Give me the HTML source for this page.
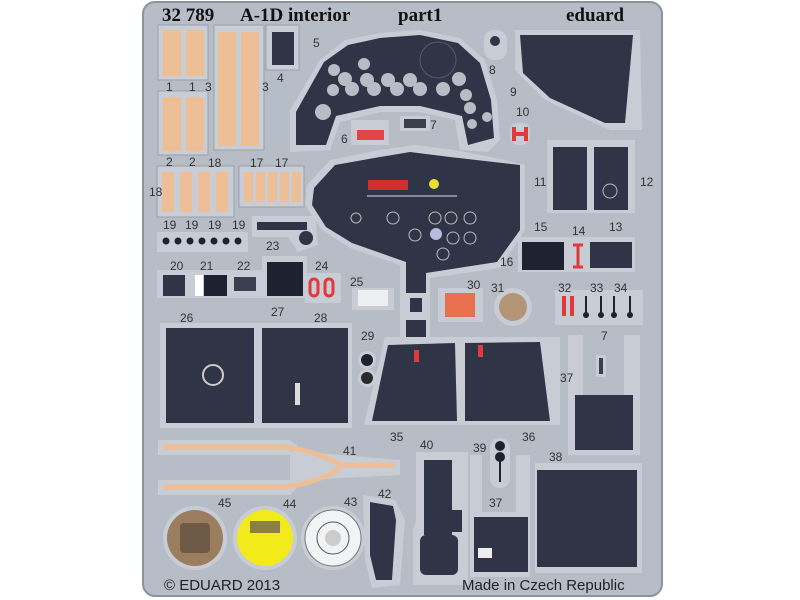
<!DOCTYPE html>
<html><head><meta charset="utf-8"><style>
html,body{margin:0;padding:0;background:#fff;}
svg{display:block}
text{font-family:"Liberation Sans",sans-serif;fill:#333;font-size:12px}
.t{font-family:"Liberation Serif",serif;font-weight:bold;font-size:19px;fill:#111}
</style></head><body>
<svg width="800" height="600" viewBox="0 0 800 600">
<rect x="143" y="2" width="519" height="594" rx="12" fill="#b7bdc7" stroke="#8d939d" stroke-width="2"/>
<text class="t" x="162" y="21">32 789</text>
<text class="t" x="240" y="21">A-1D interior</text>
<text class="t" x="398" y="21">part1</text>
<text class="t" x="566" y="21">eduard</text>
<g fill="#c9ced6" stroke="#9aa0aa">
<rect x="158" y="25" width="50" height="55"/><rect x="158" y="91" width="50" height="64"/>
<rect x="214" y="25" width="50" height="125"/><rect x="157" y="166" width="77" height="51"/><rect x="239" y="166" width="65" height="41"/>
<rect x="266" y="25" width="33" height="45"/>
</g>
<g fill="#eebf96">
<rect x="163" y="30" width="18" height="46"/><rect x="186" y="30" width="18" height="46"/>
<rect x="163" y="97" width="18" height="54"/><rect x="186" y="97" width="18" height="54"/>
<rect x="218" y="32" width="18" height="114"/><rect x="241" y="32" width="18" height="114"/>
<rect x="162" y="172" width="12" height="40"/><rect x="180" y="172" width="12" height="40"/><rect x="198" y="172" width="12" height="40"/><rect x="216" y="172" width="12" height="40"/>
<rect x="244" y="172" width="9" height="30"/><rect x="256" y="172" width="9" height="30"/><rect x="268" y="172" width="9" height="30"/><rect x="280" y="172" width="9" height="30"/><rect x="292" y="172" width="9" height="30"/>
</g>
<rect x="272" y="32" width="22" height="33" fill="#2f3446"/>
<path d="M290 110 L320 60 L345 40 L380 33 L420 30 L460 38 L485 60 L497 100 L500 140 L488 152 L460 150 L455 120 L420 112 L380 112 L340 122 L330 150 L290 152 Z" fill="#c8cdd5"/>
<path d="M296 112 L324 62 L348 45 L380 38 L420 35 L458 43 L480 63 L491 100 L494 138 L468 145 L462 116 L420 106 L380 106 L336 116 L326 145 L296 145 Z" fill="#2f3446"/>
<g fill="#b8bcc4">
<circle cx="334" cy="70" r="6"/><circle cx="364" cy="64" r="6"/><circle cx="345" cy="79" r="7"/><circle cx="367" cy="80" r="7"/><circle cx="388" cy="80" r="7"/><circle cx="410" cy="80" r="7"/><circle cx="459" cy="79" r="7"/>
<circle cx="333" cy="90" r="6"/><circle cx="352" cy="89" r="7"/><circle cx="374" cy="89" r="7"/><circle cx="397" cy="89" r="7"/><circle cx="420" cy="89" r="7"/><circle cx="443" cy="89" r="7"/><circle cx="466" cy="95" r="6"/>
<circle cx="323" cy="112" r="8"/><circle cx="470" cy="108" r="6"/><circle cx="487" cy="117" r="5"/><circle cx="472" cy="124" r="5"/>
</g>
<circle cx="438" cy="60" r="18" fill="none" stroke="#555a6a"/>
<rect x="351" y="120" width="38" height="25" fill="#c8cdd5"/><rect x="357" y="130" width="27" height="10" fill="#e24545"/>
<rect x="400" y="116" width="30" height="15" fill="#c8cdd5"/><rect x="404" y="119" width="22" height="9" fill="#3a3f4f"/>
<rect x="484" y="30" width="23" height="30" rx="10" fill="#c8cdd5"/><circle cx="495" cy="41" r="5" fill="#2f3446"/>
<path d="M515 30 L640 30 L642 130 L610 130 L545 100 L515 70 Z" fill="#c8cdd5"/>
<path d="M520 35 L633 35 L625 123 L605 123 L550 98 L523 73 Z" fill="#2f3446"/>
<rect x="510" y="123" width="20" height="22" rx="8" fill="#c8cdd5"/><path d="M514 127 v14 M526 127 v14 M514 134 h12" stroke="#e03a3a" stroke-width="4"/>
<rect x="547" y="140" width="88" height="73" fill="#c8cdd5"/>
<rect x="553" y="147" width="34" height="63" fill="#2f3446"/><rect x="594" y="147" width="34" height="63" fill="#2f3446"/>
<circle cx="610" cy="191" r="7" fill="none" stroke="#bbb"/>
<path d="M307 185 L330 160 L380 150 L415 145 L455 150 L505 160 L525 165 L525 230 L500 268 L430 278 L430 345 L400 345 L400 265 L350 248 L322 230 L305 205 Z" fill="#c8cdd5"/>
<path d="M314 188 L335 165 L380 157 L410 152 L450 157 L520 165 L520 230 L497 262 L426 273 L426 340 L406 340 L406 262 L352 243 L326 227 L312 205 Z" fill="#2f3446"/>
<rect x="368" y="180" width="40" height="10" fill="#d03030"/><circle cx="434" cy="184" r="5" fill="#e8e030"/>
<rect x="367" y="195" width="90" height="2" fill="#888"/>
<g fill="none" stroke="#bbb"><circle cx="435" cy="218" r="6"/><circle cx="451" cy="218" r="6"/><circle cx="470" cy="218" r="6"/><circle cx="453" cy="238" r="6"/><circle cx="470" cy="238" r="6"/><circle cx="415" cy="235" r="6"/><circle cx="443" cy="254" r="6"/><circle cx="393" cy="218" r="6"/><circle cx="356" cy="218" r="5"/></g>
<circle cx="436" cy="234" r="6" fill="#b8bce0"/>
<rect x="518" y="237" width="117" height="35" fill="#c8cdd5"/>
<rect x="522" y="242" width="42" height="28" fill="#1f2230"/><rect x="590" y="242" width="42" height="26" fill="#2f3446"/>
<path d="M573 245 h10 M578 245 v22 M573 267 h10" stroke="#e03a3a" stroke-width="3"/>
<rect x="157" y="232" width="91" height="20" fill="#c8cdd5"/>
<g fill="#1e2130"><circle cx="166" cy="241" r="3.5"/><circle cx="178" cy="241" r="3.5"/><circle cx="190" cy="241" r="3.5"/><circle cx="202" cy="241" r="3.5"/><circle cx="214" cy="241" r="3.5"/><circle cx="226" cy="241" r="3.5"/><circle cx="238" cy="241" r="3.5"/></g>
<path d="M252 216 L315 216 L318 245 L298 252 L288 237 L252 237 Z" fill="#c8cdd5"/><rect x="257" y="222" width="50" height="8" fill="#2f3446"/><circle cx="306" cy="238" r="7" fill="#2f3446"/>
<rect x="157" y="270" width="105" height="28" fill="#c8cdd5"/>
<rect x="163" y="275" width="22" height="21" fill="#2f3446"/><rect x="195" y="275" width="8" height="21" fill="#fff"/><rect x="204" y="275" width="23" height="21" fill="#1e2130"/><rect x="234" y="277" width="22" height="14" fill="#3a3f4f"/>
<rect x="262" y="256" width="45" height="42" fill="#c8cdd5"/><rect x="267" y="262" width="36" height="34" fill="#1e2130"/>
<rect x="305" y="273" width="36" height="30" fill="#c8cdd5"/><rect x="310" y="279" width="8" height="17" rx="4" fill="none" stroke="#e03a3a" stroke-width="3"/><rect x="325" y="279" width="8" height="17" rx="4" fill="none" stroke="#e03a3a" stroke-width="3"/>
<rect x="352" y="288" width="42" height="22" fill="#c8cdd5"/><rect x="358" y="290" width="30" height="16" fill="#eeeff2"/>
<rect x="403" y="293" width="27" height="27" fill="#c8cdd5"/><rect x="410" y="298" width="12" height="14" fill="#2f3446"/>
<rect x="438" y="288" width="45" height="34" fill="#c8cdd5"/><rect x="445" y="293" width="30" height="24" fill="#e8704e"/>
<circle cx="513" cy="307" r="19" fill="#c8cdd5"/><circle cx="513" cy="307" r="14" fill="#b39677"/>
<rect x="555" y="290" width="88" height="35" fill="#c8cdd5"/>
<rect x="562" y="296" width="4" height="20" fill="#e03a3a"/><rect x="570" y="296" width="4" height="20" fill="#e03a3a"/>
<g stroke="#1e2130" stroke-width="2"><path d="M586 296 v18 M601 296 v18 M614 296 v18 M630 296 v18"/></g>
<g fill="#1e2130"><circle cx="586" cy="315" r="3"/><circle cx="601" cy="315" r="3"/><circle cx="614" cy="315" r="3"/><circle cx="630" cy="315" r="3"/></g>
<rect x="160" y="323" width="192" height="105" fill="#c8cdd5"/>
<rect x="166" y="328" width="88" height="95" fill="#2f3446"/><rect x="262" y="328" width="86" height="95" fill="#2f3446"/>
<circle cx="213" cy="375" r="10" fill="none" stroke="#ccc" stroke-width="2"/><rect x="295" y="383" width="5" height="22" fill="#ddd"/>
<circle cx="367" cy="360" r="9" fill="#c8cdd5"/><circle cx="367" cy="360" r="6" fill="#1e2130"/><circle cx="367" cy="378" r="9" fill="#c8cdd5"/><circle cx="367" cy="378" r="6" fill="#2a2a2a"/>
<path d="M364 425 L385 337 L560 337 L560 425 Z" fill="#c8cdd5"/>
<path d="M372 421 L388 345 L455 343 L457 421 Z" fill="#2f3446"/><path d="M465 421 L465 343 L540 342 L550 421 Z" fill="#2f3446"/>
<rect x="414" y="350" width="5" height="12" fill="#e03a3a"/><rect x="478" y="345" width="5" height="12" fill="#e03a3a"/>
<path d="M568 335 L583 335 L583 395 L624 395 L624 335 L640 335 L640 455 L568 455 Z" fill="#c8cdd5"/>
<rect x="575" y="395" width="58" height="55" fill="#2f3446"/><rect x="596" y="355" width="10" height="22" fill="#c8cdd5"/><rect x="599" y="358" width="4" height="16" fill="#3a3f4f"/>
<path d="M158 440 L290 440 L305 452 L400 460 L400 475 L305 480 L290 495 L158 495 L158 480 L290 480 L290 455 L158 455 Z" fill="#c8cdd5"/>
<path d="M163 447 L285 447 Q320 452 340 465 L395 465 M163 487 L285 487 Q320 482 340 468" stroke="#eebf96" stroke-width="5" fill="none"/>
<!-- 40 -->
<path d="M416 452 L468 452 L468 585 L413 585 L413 530 L416 520 Z" fill="#c8cdd5"/>
<rect x="424" y="460" width="28" height="75" fill="#2f3446"/><rect x="420" y="535" width="38" height="40" rx="6" fill="#2f3446"/><rect x="450" y="510" width="12" height="22" fill="#2f3446"/>
<!-- 37 lower frame -->
<path d="M470 455 L482 455 L482 512 L516 512 L516 455 L530 455 L530 577 L470 577 Z" fill="#c8cdd5"/>
<rect x="474" y="517" width="54" height="55" fill="#2f3446"/><rect x="478" y="548" width="14" height="10" fill="#eee"/>
<rect x="490" y="438" width="20" height="50" rx="10" fill="#c8cdd5"/><circle cx="500" cy="446" r="5" fill="#1e2130"/><circle cx="500" cy="457" r="5" fill="#1e2130"/><rect x="499" y="460" width="2" height="22" fill="#1e2130"/>
<rect x="535" y="463" width="107" height="110" fill="#c8cdd5"/><rect x="537" y="470" width="100" height="97" fill="#2f3446"/>
<circle cx="195" cy="538" r="32" fill="#c8cdd5"/><circle cx="195" cy="538" r="28" fill="#9b7e60"/><rect x="180" y="523" width="30" height="30" rx="4" fill="#6e5a46"/>
<circle cx="265" cy="538" r="32" fill="#c8cdd5"/><circle cx="265" cy="538" r="28" fill="#f2ea1a"/><rect x="250" y="521" width="30" height="12" fill="#8a8040"/>
<circle cx="333" cy="538" r="32" fill="#c8cdd5"/><circle cx="333" cy="538" r="28" fill="#f2f3f5" stroke="#777"/><circle cx="333" cy="538" r="16" fill="none" stroke="#555"/><circle cx="333" cy="538" r="8" fill="#ccc"/>
<path d="M363 495 L395 500 L405 520 L400 585 L372 588 L365 560 Z" fill="#c8cdd5"/><path d="M370 502 L393 506 L396 520 L392 580 L376 580 L370 555 Z" fill="#2f3446"/>
<g font-size="12">
<text x="166" y="91">1</text><text x="189" y="91">1</text><text x="205" y="91">3</text><text x="262" y="91">3</text><text x="277" y="82">4</text>
<text x="166" y="166">2</text><text x="189" y="166">2</text><text x="208" y="167">18</text><text x="149" y="196">18</text>
<text x="250" y="167">17</text><text x="275" y="167">17</text>
<text x="163" y="229">19</text><text x="185" y="229">19</text><text x="208" y="229">19</text><text x="232" y="229">19</text>
<text x="313" y="47">5</text><text x="489" y="74">8</text><text x="510" y="96">9</text><text x="516" y="116">10</text>
<text x="341" y="143">6</text><text x="430" y="129">7</text>
<text x="534" y="186">11</text><text x="640" y="186">12</text>
<text x="534" y="231">15</text><text x="572" y="235">14</text><text x="609" y="231">13</text>
<text x="500" y="266">16</text><text x="266" y="250">23</text>
<text x="170" y="270">20</text><text x="200" y="270">21</text><text x="237" y="270">22</text><text x="315" y="270">24</text>
<text x="350" y="286">25</text><text x="467" y="289">30</text><text x="491" y="292">31</text>
<text x="558" y="292">32</text><text x="590" y="292">33</text><text x="614" y="292">34</text>
<text x="180" y="322">26</text><text x="271" y="316">27</text><text x="314" y="322">28</text><text x="361" y="340">29</text>
<text x="601" y="340">7</text><text x="560" y="382">37</text>
<text x="390" y="441">35</text><text x="522" y="441">36</text><text x="343" y="455">41</text>
<text x="420" y="449">40</text><text x="473" y="452">39</text><text x="549" y="461">38</text><text x="489" y="507">37</text>
<text x="378" y="498">42</text><text x="218" y="507">45</text><text x="283" y="508">44</text><text x="344" y="506">43</text>
</g>
<text x="164" y="590" style="font-size:15px;fill:#222">© EDUARD 2013</text>
<text x="462" y="590" style="font-size:15px;fill:#222">Made in Czech Republic</text>
</svg>
</body></html>
